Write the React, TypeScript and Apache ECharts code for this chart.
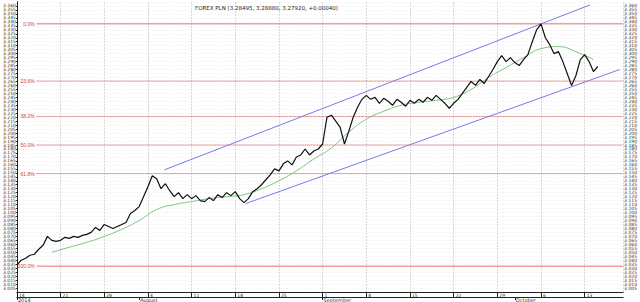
import React, { useEffect, useRef } from "react";
import * as echarts from "echarts";

// USD/PLN price samples, one every half trading day starting Mon 14 July 2014
const prices = [
  3.0338, 3.04, 3.0425, 3.0463, 3.0475, 3.0538, 3.0588, 3.07, 3.065, 3.0638,
  3.065, 3.0688, 3.0675, 3.07, 3.0688, 3.0713, 3.0725, 3.075, 3.0813, 3.0775,
  3.085, 3.0825, 3.08, 3.0825, 3.085, 3.0875, 3.0988, 3.1025, 3.1075, 3.12,
  3.1325, 3.1463, 3.1425, 3.13, 3.1363, 3.1275, 3.12, 3.125, 3.1175, 3.1225,
  3.1175, 3.1213, 3.115, 3.1138, 3.1188, 3.115, 3.1225, 3.1188, 3.125, 3.1213,
  3.1263, 3.1175, 3.1125, 3.1175, 3.1263, 3.13, 3.135, 3.1413, 3.1475, 3.155,
  3.1525, 3.1613, 3.165, 3.16, 3.17, 3.1725, 3.18, 3.1725, 3.1775, 3.18,
  3.1863, 3.22, 3.2225, 3.215, 3.2075, 3.1863, 3.2025, 3.22, 3.2325, 3.2425,
  3.2475, 3.2425, 3.245, 3.2375, 3.2438, 3.24, 3.235, 3.2425, 3.2388, 3.2338,
  3.2413, 3.2375, 3.2425, 3.2388, 3.245, 3.2413, 3.2475, 3.2425, 3.2375, 3.2313,
  3.2375, 3.2425, 3.25, 3.2575, 3.265, 3.26, 3.2675, 3.2625, 3.2713, 3.28,
  3.29, 3.2975, 3.29, 3.295, 3.2888, 3.285, 3.2925, 3.2988, 3.315, 3.33,
  3.3375, 3.32, 3.3113, 3.3, 3.3025, 3.29, 3.275, 3.26, 3.2725, 3.2925,
  3.2988, 3.29, 3.2775, 3.2838,
];
const SAMPLE_STEP = 0.5; // trading days per sample

// moving average (trading-day index, value)
const maDays = [4, 6, 8, 10, 12, 14, 16, 18, 20, 22, 24, 26, 28, 30, 32, 34, 36, 38, 40, 42, 44, 46, 48, 50, 52, 54, 56, 58, 60, 62, 64, 66];
const maValues = [
  3.05, 3.0563, 3.0625, 3.07, 3.0788, 3.09, 3.1038, 3.11, 3.1138, 3.1175,
  3.12, 3.1225, 3.13, 3.14, 3.1525, 3.1675, 3.1813, 3.2013, 3.2175, 3.2275,
  3.235, 3.2388, 3.2413, 3.245, 3.255, 3.27, 3.2825, 3.295, 3.3063, 3.3088,
  3.3025, 3.2925,
];

// trend channel (trading-day index, value)
const upperChannel = [[16.9, 3.1538], [65.6, 3.3613]];
const lowerChannel = [[26.2, 3.1113], [69.0, 3.28]];

// Fibonacci retracement levels
const fibLabels = ["0.0%", "23.6%", "38.2%", "50.0%", "61.8%", "100.0%"];
const fibValues = [3.3375, 3.2655, 3.221, 3.185, 3.149, 3.0325];

// axes
const weekLabels = ["14", "21", "28", "4", "11", "18", "25", "1", "8", "15", "22", "29", "6", "13"];
const monthStarts = [0, 14, 35, 57];
const monthLabels = ["2014", "August", "September", "October"];
const titleText = "FOREX PLN (3.28495, 3.28880, 3.27920, +0.00040)";

const X_MIN = 0;
const X_MAX = 69.4;
const Y_MIN = 3.0;
const Y_MAX = 3.365;
const FIB_START = 2.26;

export default function App() {
  const ref = useRef<HTMLDivElement>(null);

  useEffect(() => {
    if (!ref.current) return;
    const chart = echarts.init(ref.current, null, { renderer: "svg" });

    const priceData = prices.map((v, i) => [i * SAMPLE_STEP, v]);
    const maData = maDays.map((d, i) => [d, maValues[i]]);

    const fibSeries = fibValues.map((v, i) => {
      const solid = i === 0 || i === fibValues.length - 1;
      return {
        type: "line",
        name: "fib" + fibLabels[i],
        showSymbol: true,
        symbol: "circle",
        symbolSize: 0,
        silent: true,
        z: 2,
        lineStyle: {
          color: solid ? "#e87070" : "#e83a3a",
          type: solid ? "solid" : "dotted",
          width: 1,
        },
        itemStyle: { color: "transparent" },
        data: [
          {
            value: [FIB_START, v],
            label: {
              show: true,
              position: "left",
              formatter: fibLabels[i],
              color: "#d84040",
              fontSize: 5,
              distance: 2,
            },
          },
          { value: [X_MAX, v], label: { show: false } },
        ],
      };
    });

    const yAxisCommon = {
      type: "value",
      min: Y_MIN,
      max: Y_MAX,
      interval: 0.005,
      axisLine: { show: true, lineStyle: { color: "#222", width: 1 } },
      axisTick: { show: true, length: 1, lineStyle: { color: "#222" } },
      axisLabel: {
        fontSize: 4.5,
        color: "#333",
        margin: 1,
        fontFamily: "DejaVu Sans",
        formatter: (v: number) => v.toFixed(3),
      },
    };

    chart.setOption({
      animation: false,
      backgroundColor: "#ffffff",
      title: {
        text: titleText,
        left: 190,
        top: 0,
        textStyle: { fontSize: 5.5, fontWeight: "normal", color: "#222", fontFamily: "DejaVu Sans" },
      },
      grid: { left: 13, right: 12, top: 2, bottom: 8, containLabel: false },
      xAxis: [
        {
          type: "value",
          min: X_MIN,
          max: X_MAX,
          interval: 5,
          position: "bottom",
          axisLine: { show: true, lineStyle: { color: "#222", width: 1 } },
          axisTick: { show: true, length: 5, lineStyle: { color: "#222" } },
          axisLabel: {
            fontSize: 4.5,
            color: "#333",
            margin: 1,
            align: "left",
            padding: [0, 0, 0, 2],
            fontFamily: "DejaVu Sans",
            showMaxLabel: false,
            formatter: (v: number) => weekLabels[Math.round(v / 5)] ?? "",
          },
          splitLine: { show: true, lineStyle: { color: "#d8d8d8", width: 1, type: [2, 1] } },
        },
        {
          type: "value",
          min: X_MIN,
          max: X_MAX,
          position: "bottom",
          offset: 5,
          axisLine: { show: true, lineStyle: { color: "#222", width: 1 } },
          axisTick: { show: true, length: 3, customValues: monthStarts, lineStyle: { color: "#222" } },
          axisLabel: {
            customValues: monthStarts,
            fontSize: 5,
            color: "#333",
            margin: 0,
            align: "left",
            padding: [0, 0, 0, 1],
            fontFamily: "DejaVu Sans",
            formatter: (v: number) => monthLabels[monthStarts.indexOf(v)] ?? "",
          },
          splitLine: { show: false },
        },
      ],
      yAxis: [
        {
          ...yAxisCommon,
          position: "left",
          splitLine: { show: true, lineStyle: { color: "#ececec", type: [1, 2], width: 1 } },
        },
        {
          ...yAxisCommon,
          position: "right",
          splitLine: { show: false },
        },
      ],
      series: [
        ...fibSeries,
        {
          type: "line",
          name: "MA",
          data: maData,
          showSymbol: false,
          smooth: true,
          lineStyle: { color: "#7cc47c", width: 1 },
          z: 3,
        },
        {
          type: "line",
          name: "upper",
          data: upperChannel,
          showSymbol: false,
          lineStyle: { color: "#7a7ae6", width: 1 },
          z: 3,
        },
        {
          type: "line",
          name: "lower",
          data: lowerChannel,
          showSymbol: false,
          lineStyle: { color: "#7a7ae6", width: 1 },
          z: 3,
        },
        {
          type: "line",
          name: "USD/PLN",
          data: priceData,
          showSymbol: false,
          lineStyle: { color: "#111", width: 1.2 },
          z: 5,
        },
      ],
    });

    return () => chart.dispose();
  }, []);

  return (
    <div
      ref={ref}
      style={{ position: "fixed", left: 0, top: 0, width: 640, height: 302, background: "#fff" }}
    />
  );
}
